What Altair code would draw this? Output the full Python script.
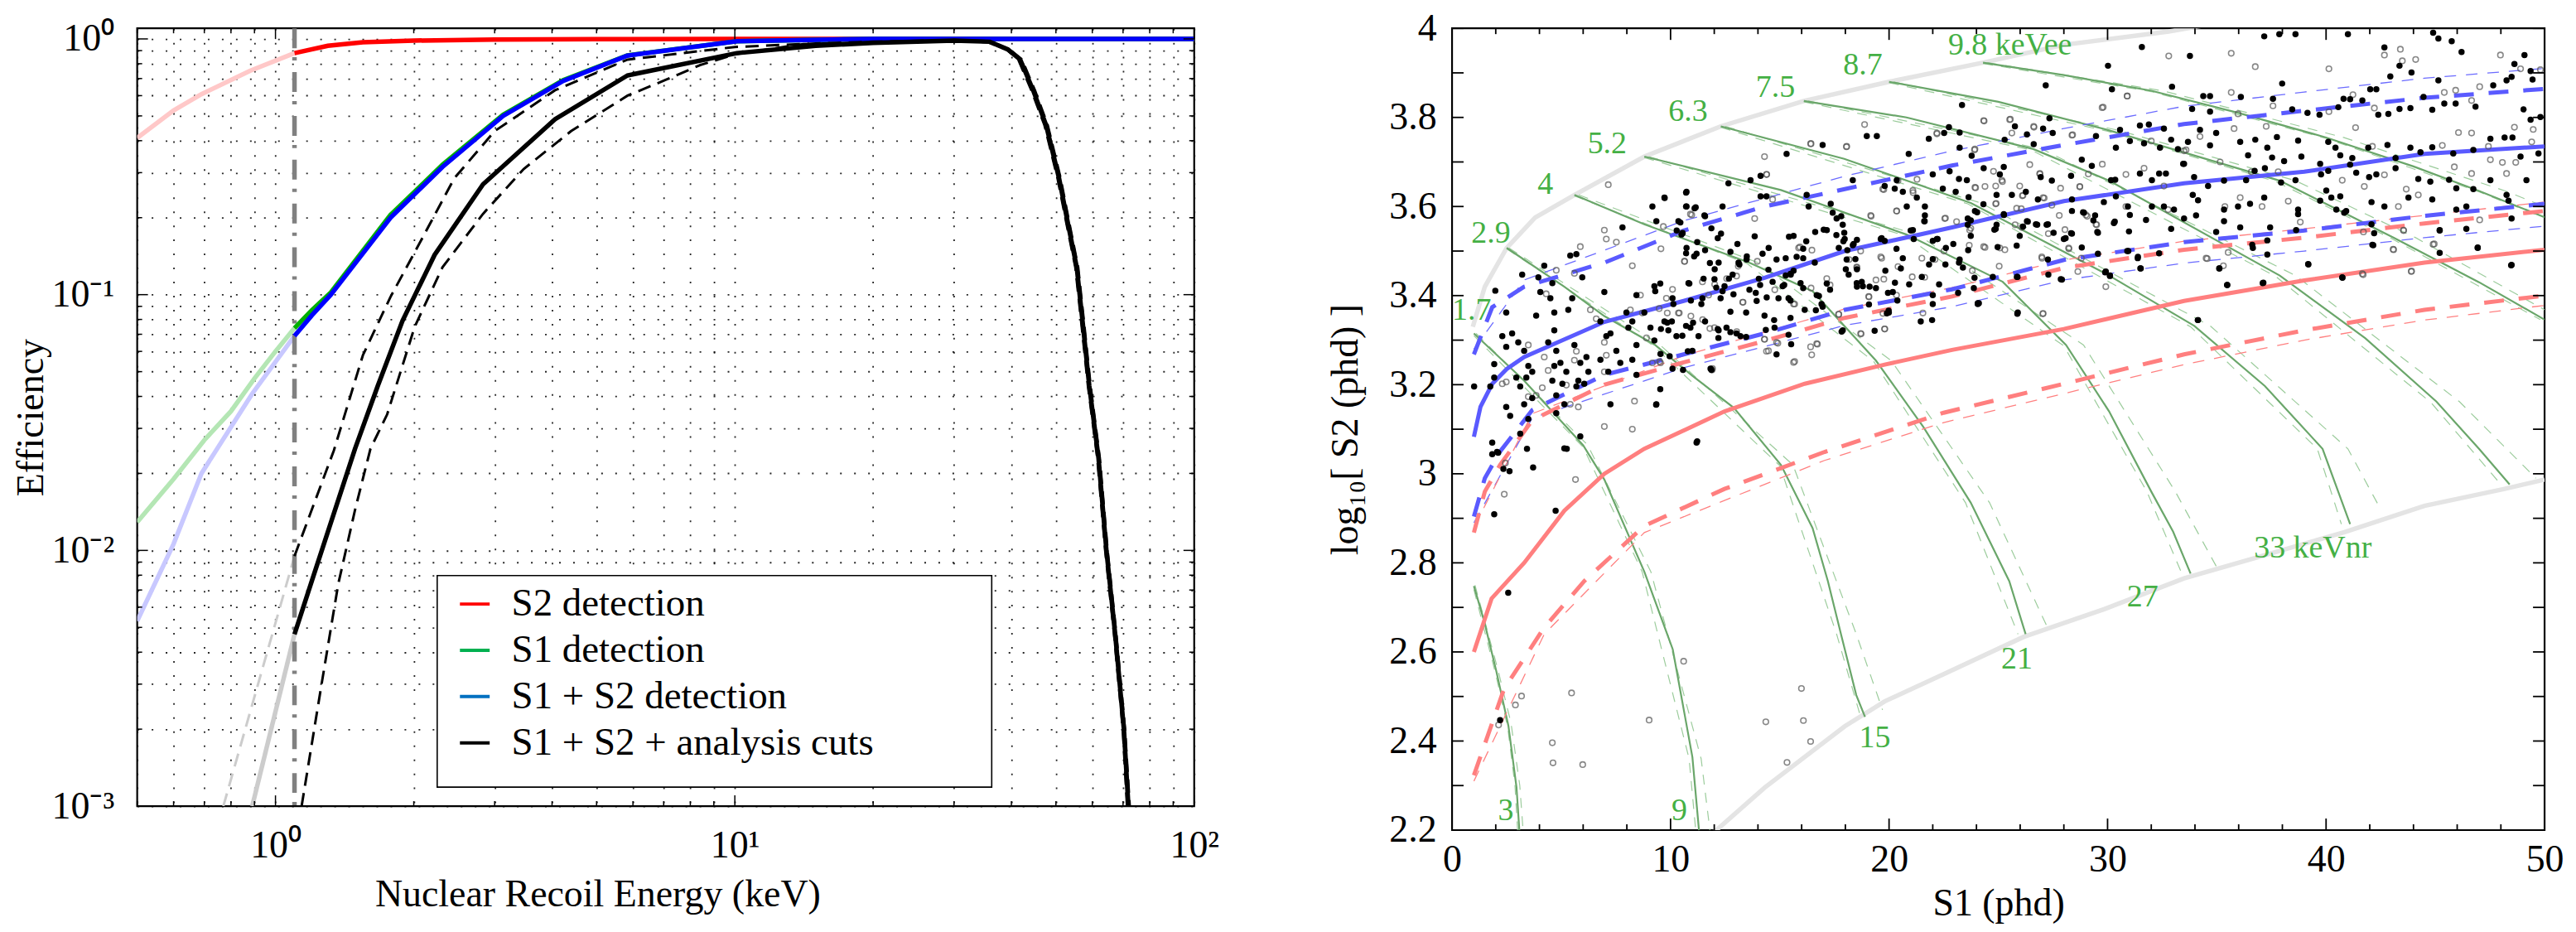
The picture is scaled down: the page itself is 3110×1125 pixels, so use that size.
import altair as alt
import pandas as pd

FONT = "Liberation Serif"
W1, H1 = 1279, 941
W2, H2 = 1322, 970

# ------------------------------------------------------------------ LEFT PANEL
x_grid = [0.5, 0.6, 0.7, 0.8, 0.9, 1, 2, 3, 4, 5, 6, 7, 8, 9, 10, 20, 30, 40, 50, 60, 70, 80, 90, 100]
x_major = [1, 10, 100]
x_minor = [0.5, 0.6, 0.7, 0.8, 0.9, 2, 3, 4, 5, 6, 7, 8, 9, 20, 30, 40, 50, 60, 70, 80, 90]
y_grid = [0.001, 0.002, 0.003, 0.004, 0.005, 0.006, 0.007, 0.008, 0.009,
          0.01, 0.02, 0.03, 0.04, 0.05, 0.06, 0.07, 0.08, 0.09,
          0.1, 0.2, 0.3, 0.4, 0.5, 0.6, 0.7, 0.8, 0.9, 1]
y_major = [0.001, 0.01, 0.1, 1]
y_minor = [0.002, 0.003, 0.004, 0.005, 0.006, 0.007, 0.008, 0.009,
           0.02, 0.03, 0.04, 0.05, 0.06, 0.07, 0.08, 0.09,
           0.2, 0.3, 0.4, 0.5, 0.6, 0.7, 0.8, 0.9]

legend_names = ["S2 detection", "S1 detection", "S1 + S2 detection", "S1 + S2 + analysis cuts"]
legend_colors = ["#ff0000", "#00b050", "#0070c0", "#000000"]

s2_pale_E = [0.5, 0.6, 0.69, 0.88, 1.1]
s2_pale_eff = [0.41, 0.525, 0.608, 0.75, 0.88]
s2_E = [1.1, 1.3, 1.55, 2.0, 3.0, 5.0, 10, 30, 100]
s2_eff = [0.88, 0.94, 0.97, 0.985, 0.995, 0.998, 1.0, 1.0, 1.0]

s1_pale_E = [0.5, 0.6, 0.7, 0.8, 0.9, 1.0, 1.1]
s1_pale_eff = [0.0129, 0.019, 0.027, 0.035, 0.047, 0.06, 0.074]
s1_E = [1.1, 1.2, 1.32, 1.78, 2.31, 3.13, 4.23, 5.83, 10.1, 20, 100]
s1_eff = [0.074, 0.087, 0.102, 0.205, 0.322, 0.505, 0.69, 0.862, 0.98, 1.0, 1.0]

s12_pale_E = [0.5, 0.6, 0.69, 0.89, 1.1]
s12_pale_eff = [0.0053, 0.0106, 0.020, 0.041, 0.069]
s12_E = [1.1, 1.2, 1.32, 1.78, 2.31, 3.13, 4.23, 5.83, 10.1, 20, 100]
s12_eff = [0.069, 0.083, 0.1, 0.2, 0.316, 0.5, 0.685, 0.86, 0.98, 1.0, 1.0]

cuts_E = [1.1, 1.2, 1.3, 1.49, 1.67, 1.89, 2.22, 2.83, 4.06, 5.84, 10.1, 15, 20, 30, 35.9,
          39.3, 41.8, 44.6, 47.6, 50.8, 53.1, 55.5, 57.3, 59.1, 61.9, 64.4, 67.3, 70.3, 71.9, 73]
cuts_eff = [0.0047, 0.0076, 0.0118, 0.025, 0.044, 0.079, 0.143, 0.27, 0.485, 0.72, 0.88, 0.94, 0.965, 0.985, 0.975,
            0.91, 0.83, 0.63, 0.46, 0.285, 0.19, 0.128, 0.075, 0.044, 0.023, 0.010, 0.0047, 0.0020, 0.001, 0.0007]
cuts_hi_E = [1.1, 1.34, 1.55, 1.78, 2.09, 2.45, 3.0, 4.06, 5.84, 10, 15, 20, 30, 35.9, 39.6,
             42.2, 45.0, 48.0, 51.2, 53.5, 55.9, 57.7, 59.5, 62.3, 64.8, 67.7, 70.7, 72.4, 73.5]
cuts_hi_eff = [0.0095, 0.0246, 0.058, 0.098, 0.167, 0.285, 0.436, 0.63, 0.83, 0.93, 0.96, 0.975, 0.99, 0.98, 0.91,
               0.83, 0.63, 0.46, 0.285, 0.19, 0.128, 0.075, 0.044, 0.023, 0.010, 0.0047, 0.0020, 0.001, 0.0007]
cuts_lo_E = [1.14, 1.26, 1.37, 1.49, 1.61, 1.75, 2.01, 2.31, 2.83, 3.47, 4.4, 5.84, 7.05, 8.4, 10, 14.1, 20, 30,
             35.6, 39.0, 41.4, 44.2, 47.2, 50.4, 52.7, 55.1, 56.9, 58.7, 61.5, 64.0, 66.9, 69.9, 71.4, 72.5]
cuts_lo_eff = [0.001, 0.003, 0.0074, 0.0144, 0.025, 0.034, 0.075, 0.128, 0.207, 0.31, 0.436, 0.60, 0.69, 0.79, 0.87,
               0.955, 0.97, 0.98, 0.97, 0.91, 0.83, 0.63, 0.46, 0.285, 0.19, 0.128, 0.075, 0.044, 0.023, 0.010,
               0.0047, 0.0020, 0.001, 0.0007]
gray_E = [0.89, 1.1]
gray_eff = [0.001, 0.0047]
gray_dash_E = [0.77, 1.1]
gray_dash_eff = [0.001, 0.0095]
threshold_E = [1.1]

# ------------------------------------------------------------------ RIGHT PANEL
s1_ticks_major = [0, 10, 20, 30, 40, 50]
s1_ticks_minor = [2, 4, 6, 8, 12, 14, 16, 18, 22, 24, 26, 28, 32, 34, 36, 38, 42, 44, 46, 48]
lg_labels = [2.2, 2.4, 2.6, 2.8, 3.0, 3.2, 3.4, 3.6, 3.8, 4.0]
lg_ticks = [2.2, 2.3, 2.4, 2.5, 2.6, 2.7, 2.8, 2.9, 3.0, 3.1, 3.2, 3.3, 3.4, 3.5, 3.6, 3.7, 3.8, 3.9, 4.0]

gray_bounds = {
    "upper": [(0.95, 3.33), (1.5, 3.42), (2.5, 3.507), (3.8, 3.575), (5.6, 3.626), (8.8, 3.712), (12.3, 3.78),
              (16.1, 3.837), (20.0, 3.88), (24.3, 3.923), (28.0, 3.963), (32.8, 3.993), (36.0, 4.02)],
    "lower": [(11.0, 2.15), (12.1, 2.2), (14.3, 2.295), (17.97, 2.433), (19.8, 2.489), (22.5, 2.55), (26.17, 2.634),
              (29.84, 2.696), (33.5, 2.765), (37.17, 2.817), (40.84, 2.869), (44.5, 2.928), (48.17, 2.966),
              (50.0, 2.987)],
}

contours = {
    "A": [(1.0, 2.748), (1.47, 2.669), (2.02, 2.558), (2.58, 2.434), (2.95, 2.296), (3.08, 2.2)],
    "B": [(1.0, 3.315), (3.3, 3.209), (6.0, 3.064), (6.97, 2.987), (8.8, 2.78), (10.1, 2.606), (11.0, 2.364),
          (11.3, 2.2)],
    "C": [(2.5, 3.507), (5.14, 3.42), (6.97, 3.354), (9.27, 3.29), (11.0, 3.22), (12.9, 3.148), (15.05, 3.02),
          (16.5, 2.878), (17.2, 2.759), (17.8, 2.64), (18.5, 2.503), (18.9, 2.454)],
    "D": [(5.6, 3.626), (8.8, 3.56), (13.6, 3.474), (16.5, 3.41), (19.4, 3.254), (21.57, 3.105), (23.74, 2.935),
          (25.5, 2.759), (26.25, 2.64)],
    "E": [(8.8, 3.712), (15.05, 3.637), (20.8, 3.537), (25.2, 3.431), (28.1, 3.289), (30.07, 3.14), (32.0, 2.96),
          (33.0, 2.87), (33.8, 2.776)],
    "F": [(12.3, 3.78), (17.95, 3.707), (23.74, 3.608), (30.07, 3.445), (33.97, 3.332), (37.2, 3.197),
          (39.84, 3.056), (41.1, 2.887)],
    "G": [(16.1, 3.837), (20.8, 3.8), (26.6, 3.729), (30.07, 3.658), (37.88, 3.445), (41.8, 3.304),
          (45.05, 3.162), (47.0, 3.056), (48.4, 2.976)],
    "H": [(20.0, 3.88), (25.0, 3.835), (30.07, 3.771), (37.88, 3.658), (43.1, 3.53), (47.0, 3.43), (50.0, 3.346)],
    "I": [(24.3, 3.923), (28.0, 3.895), (32.0, 3.86), (36.0, 3.81), (40.0, 3.755), (44.0, 3.69), (47.0, 3.635),
          (50.0, 3.576)],
}

contour_bands = {
    "A_l": [(1.0, 2.74), (2.0, 2.55), (2.55, 2.43), (2.88, 2.3), (3.0, 2.2)],
    "A_r": [(1.05, 2.75), (2.1, 2.56), (2.7, 2.44), (3.1, 2.3), (3.25, 2.2)],
    "B_l": [(1.0, 3.31), (6.0, 3.06), (8.7, 2.78), (10.85, 2.36), (11.15, 2.2)],
    "B_r": [(1.1, 3.315), (6.2, 3.065), (9.1, 2.78), (11.4, 2.36), (11.8, 2.2)],
    "C_l": [(2.5, 3.505), (9.2, 3.288), (15.0, 3.018), (17.6, 2.64), (18.7, 2.454)],
    "C_r": [(2.6, 3.507), (9.5, 3.29), (15.6, 3.02), (18.5, 2.64), (19.7, 2.47)],
    "D_l": [(5.6, 3.624), (13.5, 3.472), (19.3, 3.252), (23.5, 2.935), (25.9, 2.64)],
    "D_r": [(5.8, 3.626), (14.0, 3.474), (20.1, 3.254), (24.6, 2.935), (27.2, 2.66)],
    "E_l": [(8.8, 3.71), (20.7, 3.535), (28.0, 3.287), (31.8, 2.96), (33.4, 2.776)],
    "E_r": [(9.0, 3.712), (21.3, 3.537), (28.9, 3.289), (33.1, 2.96), (35.0, 2.79)],
    "F_l": [(12.3, 3.778), (23.6, 3.606), (33.8, 3.33), (39.6, 3.056), (40.7, 2.887)],
    "F_r": [(12.5, 3.78), (24.2, 3.608), (34.7, 3.332), (41.0, 3.056), (42.5, 2.92)],
    "G_l": [(16.1, 3.835), (26.5, 3.727), (37.7, 3.443), (44.8, 3.16), (48.0, 2.976)],
    "G_r": [(16.3, 3.837), (27.0, 3.729), (38.6, 3.445), (46.1, 3.162), (49.6, 2.99)],
    "H_l": [(20.0, 3.878), (30.0, 3.769), (37.7, 3.656), (43.0, 3.528), (49.8, 3.346)],
    "H_r": [(20.2, 3.88), (30.5, 3.771), (38.6, 3.658), (44.1, 3.53), (50.8, 3.346)],
    "I_l": [(24.3, 3.921), (32.0, 3.858), (40.0, 3.753), (47.0, 3.633), (49.9, 3.576)],
    "I_r": [(24.5, 3.923), (32.5, 3.86), (40.8, 3.755), (48.2, 3.635), (51.2, 3.576)],
}

er_median = [(1.0, 3.083), (1.3, 3.15), (1.84, 3.202), (2.5, 3.235), (3.3, 3.262), (6.97, 3.341), (10.6, 3.388),
             (14.3, 3.44), (17.97, 3.5), (22.88, 3.553), (28.0, 3.612), (33.5, 3.652), (39.0, 3.678),
             (44.5, 3.718), (50.0, 3.735)]
er_band = {
    "hi": [(1.0, 3.268), (1.84, 3.374), (3.3, 3.42), (6.97, 3.474), (10.6, 3.546), (14.3, 3.6), (17.97, 3.639),
           (22.88, 3.692), (28.0, 3.738), (33.5, 3.785), (39.0, 3.815), (44.5, 3.844), (50.0, 3.864)],
    "lo": [(1.0, 2.904), (1.5, 2.99), (2.2, 3.05), (3.67, 3.143), (6.97, 3.222), (10.6, 3.268), (14.3, 3.315),
           (17.97, 3.368), (22.88, 3.414), (28.0, 3.48), (33.5, 3.52), (39.0, 3.546), (44.5, 3.579), (50.0, 3.606)],
}
er_thin = {
    "hi": [(1.0, 3.28), (3.3, 3.435), (10.6, 3.568), (17.97, 3.668), (22.88, 3.725), (28.0, 3.775), (33.5, 3.825),
           (39.0, 3.857), (44.5, 3.888), (50.0, 3.91)],
    "lo": [(1.0, 2.89), (3.67, 3.125), (10.6, 3.238), (17.97, 3.333), (22.88, 3.375), (28.0, 3.435), (33.5, 3.473),
           (39.0, 3.5), (44.5, 3.53), (50.0, 3.556)],
}
nr_median = [(1.0, 2.6), (1.81, 2.72), (3.3, 2.8), (5.14, 2.917), (6.97, 3.0), (8.8, 3.056), (12.47, 3.14),
             (16.14, 3.202), (19.8, 3.245), (22.88, 3.278), (28.0, 3.325), (33.5, 3.388), (39.0, 3.434),
             (44.5, 3.474), (50.0, 3.503)]
nr_band = {
    "hi": [(1.0, 2.868), (1.5, 2.96), (2.2, 3.02), (3.67, 3.12), (6.97, 3.2), (10.6, 3.25), (14.3, 3.298),
           (17.97, 3.35), (22.88, 3.398), (28.0, 3.462), (33.5, 3.503), (39.0, 3.53), (44.5, 3.562), (50.0, 3.59)],
    "lo": [(1.0, 2.323), (2.38, 2.517), (4.22, 2.655), (6.05, 2.759), (8.8, 2.883), (12.47, 2.966), (17.05, 3.049),
           (22.5, 3.137), (28.0, 3.202), (33.5, 3.268), (39.0, 3.322), (44.5, 3.368), (50.0, 3.4)],
}
nr_thin = {
    "hi": [(1.0, 2.88), (3.67, 3.135), (10.6, 3.265), (17.97, 3.37), (22.88, 3.418), (28.0, 3.48), (33.5, 3.522),
           (39.0, 3.55), (44.5, 3.58), (50.0, 3.61)],
    "lo": [(1.0, 2.31), (4.22, 2.64), (8.8, 2.868), (17.05, 3.03), (22.5, 3.115), (28.0, 3.18), (33.5, 3.245),
           (39.0, 3.3), (44.5, 3.345), (50.0, 3.378)],
}

kevee_text = ["1.7", "2.9", "4", "5.2", "6.3", "7.5", "8.7"]
kevee_s1 = [0.9, 1.78, 4.27, 7.1, 10.8, 14.8, 18.8]
kevee_lg = [3.367, 3.539, 3.648, 3.74, 3.812, 3.867, 3.917]
kevnr_text = ["3", "9", "15", "21", "27"]
kevnr_s1 = [2.46, 10.4, 19.35, 25.85, 31.6]
kevnr_lg = [2.243, 2.243, 2.406, 2.584, 2.722]
unit_text = ["9.8 keVee", "33 keVnr"]
unit_s1 = [22.7, 36.7]
unit_lg = [3.961, 2.833]

filled_pts = [
    (1.01, 3.196), (1.98, 3.411), (1.75, 3.196), (1.93, 3.216), (2.3, 3.309), (2.48, 3.362), (1.93, 3.246),
    (2.48, 3.285), (3.21, 3.447), (2.75, 3.315), (3.03, 3.295), (3.3, 3.276), (3.49, 3.242), (3.67, 3.229),
    (3.4, 3.216), (2.94, 3.216), (3.12, 3.196), (2.48, 3.15), (2.66, 3.13), (3.3, 3.156), (3.49, 3.123),
    (3.67, 3.17), (3.85, 3.355), (3.95, 3.441), (4.22, 3.467), (4.04, 3.408), (4.59, 3.428), (4.5, 3.394),
    (4.68, 3.362), (4.68, 3.322), (4.4, 3.295), (4.77, 3.276), (4.68, 3.242), (4.96, 3.249), (5.23, 3.229),
    (4.59, 3.209), (5.05, 3.202), (4.77, 3.176), (5.14, 3.156), (4.77, 3.136), (5.32, 3.368), (5.41, 3.49),
    (5.69, 3.493), (5.96, 3.441), (5.5, 3.394), (5.6, 3.289), (5.87, 3.249), (5.78, 3.209), (6.05, 3.202),
    (5.69, 3.196), (6.24, 3.229), (6.15, 3.262), (5.87, 3.084), (6.79, 3.256), (6.97, 3.408), (6.79, 3.342),
    (7.06, 3.309), (7.25, 3.315), (7.15, 3.229), (7.25, 3.156), (7.52, 3.276), (7.7, 3.249), (7.8, 3.553),
    (7.98, 3.362), (8.07, 3.328), (8.25, 3.342), (8.44, 3.401), (8.44, 3.289), (8.25, 3.256), (8.44, 3.222),
    (8.8, 3.362), (9.08, 3.328), (9.17, 3.6), (9.35, 3.567), (9.26, 3.421), (9.26, 3.299), (9.54, 3.269),
    (9.35, 3.156), (9.72, 3.62), (9.72, 3.342), (9.9, 3.322), (10.09, 3.394), (10.27, 3.309), (10.09, 3.236),
    (10.36, 3.567), (10.73, 3.6), (10.73, 3.633), (10.55, 3.54), (10.73, 3.507), (10.82, 3.428), (10.91, 3.328),
    (11.0, 3.276), (11.1, 3.596), (11.19, 3.494), (11.46, 3.394), (11.28, 3.309), (11.55, 3.58), (11.83, 3.236),
    (12.01, 3.437), (12.2, 3.474), (12.29, 3.394), (12.38, 3.6), (12.2, 3.322), (12.56, 3.328), (12.47, 3.421),
    (12.65, 3.652), (12.84, 3.447), (13.02, 3.315), (13.11, 3.474), (13.2, 3.309), (13.48, 3.481), (13.66, 3.659),
    (13.85, 3.533), (13.94, 3.388), (14.12, 3.669), (14.12, 3.623), (14.21, 3.494), (14.3, 3.355), (14.39, 3.623),
    (14.49, 3.507), (14.67, 3.431), (14.76, 3.328), (14.85, 3.481), (14.94, 3.394), (15.13, 3.421), (15.31, 3.718),
    (15.4, 3.312), (15.5, 3.447), (15.4, 3.394), (15.77, 3.487), (15.95, 3.428), (16.14, 3.368), (16.23, 3.626),
    (16.32, 3.6), (16.6, 3.474), (16.69, 3.401), (16.96, 3.375), (16.96, 3.738), (17.15, 3.547), (17.33, 3.606),
    (17.42, 3.586), (17.6, 3.573), (17.7, 3.507), (17.88, 3.322), (17.97, 3.527), (18.06, 3.481), (18.15, 3.447),
    (18.34, 3.513), (18.34, 3.659), (18.52, 3.428), (18.8, 3.421), (18.98, 3.758), (19.44, 3.758), (19.62, 3.527),
    (19.8, 3.646), (19.99, 3.362), (20.17, 3.408), (20.26, 3.64), (20.35, 3.659), (20.54, 3.461), (20.63, 3.633),
    (20.81, 3.6), (20.9, 3.718), (21.09, 3.547), (21.27, 3.62), (21.45, 3.342), (21.63, 3.567), (21.82, 3.752),
    (22.0, 3.672), (22.19, 3.527), (22.46, 3.64), (22.74, 3.778),
    (11.19, 3.07), (5.14, 3.057), (1.84, 3.07), (3.12, 3.09), (1.84, 3.044), (2.11, 3.047),
    (2.06, 3.049), (2.35, 3.011), (2.63, 3.006), (3.71, 3.014), (3.43, 3.056), (5.25, 3.056), (1.93, 2.909),
    (4.74, 2.917), (2.57, 2.733), (2.2, 2.447),
    (9.73, 3.619), (10.71, 3.631), (11.15, 3.598), (11.58, 3.578), (10.71, 3.6), (11.87, 3.551), (12.31, 3.539),
    (12.16, 3.529), (10.45, 3.564), (10.28, 3.546), (10.5, 3.537), (11.22, 3.52), (11.58, 3.502), (10.71, 3.495),
    (11.08, 3.488), (12.74, 3.498), (13.06, 3.516), (13.49, 3.488), (13.15, 3.47), (11.8, 3.473), (12.02, 3.459),
    (12.67, 3.438), (11.51, 3.438), (9.53, 3.427), (10.86, 3.427), (12.09, 3.418), (12.38, 3.41), (12.88, 3.403),
    (13.61, 3.413), (14.48, 3.458), (14.04, 3.438), (14.1, 3.424), (13.9, 3.406), (14.4, 3.396), (15.2, 3.424),
    (15.27, 3.445), (15.49, 3.449), (15.63, 3.456), (16.07, 3.484), (15.27, 3.484), (15.42, 3.532), (15.63, 3.534),
    (16.21, 3.522), (16.07, 3.505), (16.62, 3.543), (17.01, 3.548), (17.59, 3.536), (17.88, 3.559), (17.81, 3.578),
    (17.95, 3.541), (17.91, 3.522), (18.09, 3.502), (18.38, 3.516), (18.53, 3.525), (18.46, 3.482), (18.02, 3.459),
    (18.53, 3.459), (18.75, 3.431), (18.53, 3.42), (19.11, 3.42), (19.4, 3.417), (19.83, 3.456), (19.8, 3.523),
    (19.66, 3.529), (20.34, 3.505), (20.63, 3.484), (20.99, 3.546), (21.13, 3.527), (21.64, 3.6), (21.64, 3.58),
    (21.61, 3.567), (21.83, 3.47), (22.0, 3.482), (22.0, 3.523), (22.22, 3.527), (22.29, 3.425), (22.58, 3.47),
    (22.94, 3.516), (23.23, 3.481), (23.38, 3.463), (23.62, 3.502), (23.74, 3.534), (23.91, 3.44), (24.06, 3.383),
    (23.88, 3.417), (23.6, 3.559), (23.74, 3.569), (24.03, 3.587), (24.32, 3.605), (24.82, 3.548), (24.92, 3.559),
    (24.97, 3.509), (25.26, 3.581), (25.62, 3.626), (25.84, 3.512), (25.98, 3.534), (26.13, 3.555), (26.35, 3.566),
    (26.78, 3.559), (27.21, 3.559), (27.53, 3.541), (28.08, 3.529), (28.37, 3.539), (28.37, 3.59), (28.88, 3.587),
    (29.35, 3.569), (29.53, 3.543), (30.33, 3.566), (30.98, 3.544), (30.95, 3.5), (31.38, 3.484), (29.89, 3.452),
    (30.11, 3.445), (27.86, 3.437), (27.29, 3.447), (25.88, 3.442), (24.75, 3.442), (23.16, 3.406), (21.5, 3.442),
    (20.27, 3.429), (20.92, 3.425), (19.95, 3.406), (19.08, 3.38), (19.98, 3.366), (19.9, 3.36), (20.38, 3.389),
    (22.0, 3.401), (22.0, 3.381), (16.65, 3.367), (15.49, 3.389), (16.07, 3.417), (16.79, 3.399), (16.91, 3.381),
    (17.15, 3.427), (17.3, 3.413), (15.49, 3.35), (14.74, 3.345), (14.36, 3.323), (13.46, 3.362), (12.74, 3.364),
    (12.16, 3.325), (11.41, 3.381), (11.58, 3.342), (11.03, 3.339), (10.71, 3.332), (10.54, 3.31), (10.06, 3.342),
    (9.85, 3.339), (9.56, 3.325), (10.93, 3.389), (10.13, 3.381), (9.3, 3.41), (12.74, 3.318), (13.46, 3.307),
    (12.19, 3.305), (10.79, 3.275), (9.96, 3.264), (11.22, 3.073), (9.53, 3.19), (9.34, 3.155), (10.57, 3.233),
    (11.87, 3.233), (14.85, 3.268), (15.52, 3.291), (17.83, 3.319), (19.34, 3.321), (21.97, 3.345), (25.87, 3.359),
    (24.06, 3.381),
    (37.17, 3.982), (37.86, 3.987), (38.6, 3.987), (41.0, 3.987), (44.9, 3.99), (45.14, 3.977), (45.75, 3.971),
    (46.2, 3.947), (31.57, 3.958), (33.77, 3.938), (30.02, 3.916), (42.67, 3.957), (43.36, 3.916), (43.91, 3.901),
    (48.62, 3.92), (49.08, 3.94), (49.36, 3.904), (49.45, 3.885), (45.14, 3.883), (27.17, 3.872), (32.95, 3.869),
    (37.99, 3.876), (42.94, 3.892), (30.2, 3.863), (42.02, 3.863), (42.3, 3.863), (44.46, 3.846), (45.41, 3.831),
    (45.93, 3.831), (46.84, 3.824), (49.04, 3.818), (47.65, 3.872), (48.26, 3.883), (48.49, 3.891), (34.38, 3.848),
    (34.69, 3.848), (36.1, 3.846), (37.57, 3.842), (40.8, 3.842), (41.66, 3.838), (43.36, 3.819), (43.86, 3.821),
    (44.86, 3.817), (33.87, 3.819), (34.69, 3.813), (38.45, 3.818), (39.15, 3.81), (39.7, 3.806), (40.56, 3.823),
    (41.1, 3.841), (42.39, 3.806), (42.85, 3.808),
    (23.23, 3.766), (23.34, 3.828), (27.34, 3.798), (25.76, 3.78), (27.05, 3.775), (27.49, 3.765), (26.31, 3.762),
    (25.29, 3.75), (26.62, 3.74), (23.78, 3.714), (23.23, 3.732), (22.52, 3.765), (30.57, 3.772), (31.48, 3.782),
    (31.89, 3.784), (32.58, 3.775), (29.47, 3.758), (31.02, 3.747), (31.67, 3.742), (30.38, 3.732), (32.4, 3.732),
    (32.91, 3.75), (33.22, 3.729), (33.46, 3.696), (33.68, 3.745), (34.23, 3.772), (34.97, 3.765), (34.69, 3.737),
    (36.07, 3.745), (36.76, 3.75), (37.75, 3.756), (38.72, 3.748), (36.43, 3.715), (37.31, 3.732), (37.53, 3.71),
    (38.08, 3.702), (38.87, 3.712), (39.73, 3.696), (40.1, 3.745), (40.43, 3.732), (40.65, 3.715), (41.2, 3.709),
    (41.93, 3.732), (42.81, 3.738), (43.18, 3.709), (43.86, 3.732), (44.32, 3.722), (44.86, 3.733), (45.82, 3.719),
    (46.74, 3.727), (47.52, 3.752), (48.17, 3.755), (48.53, 3.755), (48.9, 3.712), (49.72, 3.719), (49.81, 3.801),
    (49.36, 3.795),
    (22.77, 3.679), (23.2, 3.662), (23.56, 3.659), (24.33, 3.686), (25.07, 3.672), (25.25, 3.689), (26.94, 3.666),
    (27.45, 3.658), (28.33, 3.669), (28.82, 3.705), (29.28, 3.691), (30.16, 3.659), (30.35, 3.66), (31.48, 3.674),
    (32.03, 3.659), (32.36, 3.674), (32.67, 3.674), (33.5, 3.696), (33.96, 3.666), (34.6, 3.646), (35.33, 3.658),
    (36.34, 3.659), (36.73, 3.68), (37.2, 3.686), (37.94, 3.654), (38.6, 3.659), (39.77, 3.672), (40.1, 3.68),
    (41.1, 3.694), (41.38, 3.676), (41.97, 3.666), (42.3, 3.672), (43.18, 3.686), (44.22, 3.662), (44.77, 3.656),
    (45.63, 3.66), (45.96, 3.641), (46.74, 3.639), (47.52, 3.659), (49.17, 3.659),
    (23.05, 3.633), (23.64, 3.621), (24.92, 3.626), (26.26, 3.633), (26.81, 3.616), (28.37, 3.616), (29.83, 3.61),
    (30.38, 3.623), (30.93, 3.6), (32.03, 3.6), (32.58, 3.6), (33.04, 3.593), (33.9, 3.626), (34.14, 3.614),
    (35.33, 3.593), (35.97, 3.6), (36.52, 3.606), (37.17, 3.62), (38.72, 3.583), (39.73, 3.613), (40.01, 3.636),
    (40.24, 3.62), (40.65, 3.623), (40.92, 3.59), (42.08, 3.61), (42.67, 3.6), (43.77, 3.62), (44.86, 3.616),
    (45.96, 3.593), (46.42, 3.6), (48.26, 3.626), (48.35, 3.613),
    (23.6, 3.573), (23.93, 3.59), (24.88, 3.55), (25.25, 3.583), (26.31, 3.567), (26.72, 3.56), (27.27, 3.56),
    (28.0, 3.527), (28.33, 3.54), (28.92, 3.586), (29.43, 3.58), (29.56, 3.541), (30.29, 3.563), (31.02, 3.581),
    (31.76, 3.57), (32.91, 3.55), (33.5, 3.573), (34.05, 3.58), (34.97, 3.543), (35.33, 3.567), (36.07, 3.553),
    (36.62, 3.514), (37.31, 3.524), (37.44, 3.553), (38.63, 3.547), (38.72, 3.593), (40.47, 3.593), (40.83, 3.586),
    (42.08, 3.56), (42.2, 3.54), (42.12, 3.514), (45.2, 3.547), (46.42, 3.55), (46.94, 3.508), (48.49, 3.573),
    (22.6, 3.507), (23.2, 3.474), (24.11, 3.383), (25.89, 3.362), (25.85, 3.442), (27.27, 3.481), (27.91, 3.436),
    (28.82, 3.508), (29.56, 3.494), (29.92, 3.454), (30.11, 3.444), (30.9, 3.5), (31.39, 3.487), (31.52, 3.461),
    (32.36, 3.495), (35.11, 3.461), (35.48, 3.424), (36.65, 3.507), (37.13, 3.429), (37.31, 3.492), (39.18, 3.471),
    (48.49, 3.469), (34.14, 3.345), (40.74, 3.441),
    (39.19, 3.47), (40.75, 3.44), (48.47, 3.468), (37.1, 3.428), (35.47, 3.424), (34.13, 3.345), (35.12, 3.461),
    (31.5, 3.461), (45.2, 3.496), (46.94, 3.507), (42.16, 3.513), (45.2, 3.546),
]

open_pts = [
    (7.15, 3.649), (6.97, 3.547), (7.06, 3.527), (7.52, 3.52), (8.25, 3.467), (5.87, 3.51), (4.77, 3.457),
    (5.6, 3.45), (4.31, 3.404), (3.49, 3.289), (2.3, 3.202), (2.48, 3.206), (4.22, 3.262), (4.4, 3.232),
    (4.13, 3.193), (3.49, 3.173), (3.85, 3.176), (5.23, 3.199), (5.6, 3.255), (5.69, 3.275), (6.33, 3.368),
    (6.6, 3.348), (6.97, 3.295), (7.06, 3.266), (6.97, 3.229), (5.41, 3.156), (5.78, 3.15), (6.97, 3.106),
    (8.25, 3.1), (8.35, 3.163), (8.16, 3.368), (8.62, 3.401), (8.71, 3.361), (8.9, 3.305), (9.17, 3.249),
    (9.54, 3.249), (9.81, 3.394), (10.09, 3.414), (10.36, 3.361), (10.64, 3.477), (10.91, 3.583), (11.46, 3.431),
    (11.74, 3.401), (11.92, 3.236), (12.01, 3.328), (13.02, 3.444), (13.3, 3.385), (13.85, 3.573), (14.3, 3.712),
    (14.39, 3.672), (14.67, 3.616), (14.3, 3.302), (14.39, 3.275), (14.85, 3.295), (15.68, 3.252), (15.68, 3.381),
    (15.86, 3.507), (16.41, 3.741), (16.41, 3.285), (16.69, 3.292), (17.7, 3.358), (18.06, 3.735), (18.88, 3.784),
    (18.52, 3.464), (18.7, 3.315), (19.07, 3.398), (19.16, 3.58), (19.71, 3.639), (19.8, 3.325), (19.62, 3.487),
    (20.35, 3.59), (21.09, 3.636), (21.55, 3.361), (21.63, 3.441), (22.19, 3.765), (22.1, 3.481), (22.55, 3.573),
    (2.44, 3.024), (2.39, 2.954), (5.65, 2.987), (10.6, 2.579), (5.47, 2.508), (3.18, 2.501), (2.9, 2.481),
    (2.13, 2.436), (4.59, 2.396), (4.62, 2.351), (5.98, 2.347), (9.02, 2.447), (14.36, 2.443), (15.99, 2.518),
    (16.08, 2.446), (16.41, 2.399), (15.33, 2.352),
    (14.4, 3.672), (16.43, 3.741), (18.05, 3.734), (22.19, 3.763), (23.91, 3.727), (24.35, 3.792), (25.55, 3.796),
    (25.62, 3.765), (26.63, 3.778), (28.4, 3.761), (29.75, 3.822), (30.9, 3.848), (29.76, 3.695), (29.12, 3.673),
    (28.73, 3.644), (27.1, 3.619), (26.9, 3.673), (26.1, 3.624), (26.05, 3.595), (25.19, 3.656), (24.78, 3.679),
    (24.39, 3.645), (23.96, 3.642), (22.58, 3.574), (23.09, 3.566), (23.74, 3.551), (24.9, 3.607), (25.84, 3.596),
    (25.77, 3.559), (26.08, 3.553), (27.29, 3.539), (27.79, 3.58), (28.05, 3.548), (29.07, 3.578), (29.5, 3.559),
    (28.23, 3.505), (28.8, 3.484), (27.0, 3.484), (25.04, 3.466), (25.3, 3.503), (24.39, 3.508), (23.67, 3.513),
    (23.81, 3.456), (22.51, 3.5), (21.5, 3.484), (21.06, 3.442), (20.41, 3.658), (21.28, 3.661), (21.1, 3.631),
    (19.76, 3.638), (19.18, 3.578), (20.34, 3.59), (19.66, 3.484), (20.41, 3.465), (18.53, 3.463), (18.17, 3.481),
    (17.15, 3.438), (18.7, 3.5), (16.47, 3.502), (15.92, 3.509), (13.97, 3.477), (13.1, 3.466), (12.57, 3.438),
    (12.02, 3.425), (14.77, 3.413), (16.43, 3.417), (17.3, 3.424), (19.08, 3.397), (19.4, 3.435), (19.76, 3.437),
    (20.34, 3.401), (19.72, 3.36), (17.69, 3.358), (15.63, 3.381), (13.32, 3.385), (10.97, 3.581), (9.67, 3.555),
    (10.54, 3.541), (9.56, 3.505), (10.64, 3.477), (9.48, 3.371), (9.85, 3.361), (10.4, 3.361), (10.93, 3.354),
    (11.47, 3.346), (11.8, 3.326), (13.03, 3.319), (9.5, 3.252), (11.9, 3.233), (15.63, 3.25), (16.46, 3.267),
    (16.72, 3.291), (14.48, 3.276), (14.3, 3.302), (14.91, 3.293), (19.8, 3.325), (18.72, 3.314), (27.04, 3.359),
    (32.8, 3.938), (35.66, 3.944), (36.76, 3.914), (40.13, 3.909), (42.67, 3.94), (43.4, 3.953), (43.49, 3.927),
    (44.1, 3.93), (47.98, 3.94), (48.9, 3.909), (49.81, 3.907), (30.9, 3.848), (35.66, 3.856), (37.57, 3.826),
    (29.8, 3.823), (41.23, 3.851), (45.41, 3.856), (45.93, 3.861), (47.03, 3.869), (46.66, 3.838), (42.21, 3.821),
    (40.13, 3.813), (35.97, 3.808), (24.33, 3.793), (25.52, 3.795), (26.62, 3.78), (28.37, 3.76), (32.0, 3.747),
    (33.5, 3.725), (34.23, 3.757), (35.79, 3.775), (37.26, 3.78), (41.35, 3.777), (42.12, 3.735), (45.32, 3.737),
    (46.06, 3.766), (46.66, 3.765), (47.43, 3.735), (48.62, 3.778), (49.48, 3.773), (49.41, 3.745), (23.93, 3.729),
    (26.44, 3.694), (26.9, 3.674), (25.16, 3.659), (23.93, 3.643), (24.88, 3.646), (25.98, 3.646), (27.85, 3.641),
    (28.73, 3.645), (30.84, 3.672), (31.67, 3.686), (32.58, 3.646), (33.59, 3.727), (35.15, 3.7), (36.58, 3.678),
    (37.81, 3.678), (38.27, 3.612), (40.74, 3.659), (41.75, 3.645), (42.67, 3.671), (43.67, 3.639), (45.87, 3.689),
    (46.66, 3.674), (47.52, 3.705), (48.07, 3.699), (48.68, 3.699), (48.26, 3.674), (24.88, 3.606), (26.13, 3.625),
    (27.05, 3.62), (27.45, 3.603), (29.01, 3.581), (29.47, 3.56), (30.84, 3.6), (32.77, 3.593), (35.37, 3.6),
    (36.07, 3.62), (37.07, 3.6), (38.82, 3.565), (41.71, 3.543), (43.31, 3.6), (44.22, 3.626), (47.03, 3.57),
    (23.69, 3.547), (24.33, 3.51), (25.07, 3.507), (26.99, 3.487), (28.64, 3.454), (29.92, 3.42), (28.22, 3.507),
    (34.51, 3.484), (35.52, 3.497), (35.3, 3.467), (43.07, 3.504), (43.54, 3.547), (43.91, 3.455), (44.9, 3.515),
    (41.66, 3.449), (27.05, 3.36),
    (41.7, 3.447), (43.9, 3.454), (34.56, 3.483), (44.95, 3.516), (43.09, 3.503), (43.55, 3.546),
]


# ------------------------------------------------------------------ helpers
def series_df(xs, ys):
    return pd.DataFrame({"x": xs, "y": ys, "o": list(range(len(xs)))})


def lines_df(d):
    rows = []
    for name, pts in d.items():
        for i, (a, b) in enumerate(pts):
            rows.append({"s1": a, "lg": b, "k": name, "o": i})
    return pd.DataFrame(rows)


def pts_df(pts):
    return pd.DataFrame({"s1": [p[0] for p in pts], "lg": [p[1] for p in pts]})


LX_SCALE = alt.Scale(type="log", domain=[0.5, 100], nice=False)
LY_SCALE = alt.Scale(type="log", domain=[0.001, 1.1], nice=False)
RX_SCALE = alt.Scale(domain=[0, 50], nice=False, zero=False)
RY_SCALE = alt.Scale(domain=[2.2, 4.0], nice=False, zero=False)

lx_axis = alt.Axis(
    values=x_grid, grid=True, gridDash=[2, 15], gridColor="black", gridWidth=1.8, gridOpacity=0.85,
    ticks=False, domain=False, labelOverlap=False, labelFlush=False,
    labelExpr="datum.value == 1 ? '10\u2070' : datum.value == 10 ? '10\u00b9' : datum.value == 100 ? '10\u00b2' : ''",
    labelFont=FONT, labelFontSize=46, labelColor="black", labelPadding=26, labelBaseline="top",
    title="Nuclear Recoil Energy (keV)", titleFont=FONT, titleFontSize=46, titleFontWeight="normal",
    titleColor="black", titlePadding=14, titleX=557,
)
ly_axis = alt.Axis(
    values=y_grid, grid=True, gridDash=[2, 15], gridColor="black", gridWidth=1.8, gridOpacity=0.85,
    ticks=False, domain=False, labelOverlap=False, labelFlush=False,
    labelExpr=("datum.value == 1 ? '10\u2070' : datum.value == 0.1 ? '10\u207b\u00b9' : "
               "datum.value == 0.01 ? '10\u207b\u00b2' : datum.value == 0.001 ? '10\u207b\u00b3' : ''"),
    labelFont=FONT, labelFontSize=46, labelColor="black", labelPadding=28,
    title="Efficiency", titleFont=FONT, titleFontSize=46, titleFontWeight="normal",
    titleColor="black", titlePadding=1,
)
rx_axis = alt.Axis(
    values=s1_ticks_major, ticks=False, domain=False, grid=False, labelFlush=False, labelOverlap=False,
    labelFont=FONT, labelFontSize=46, labelColor="black", labelPadding=14, labelBaseline="top",
    title="S1 (phd)", titleFont=FONT, titleFontSize=46, titleFontWeight="normal", titleColor="black",
    titlePadding=8,
)
ry_axis = alt.Axis(
    values=lg_labels, format="~g", ticks=False, domain=False, grid=False, labelFlush=False, labelOverlap=False,
    labelFont=FONT, labelFontSize=46, labelColor="black", labelPadding=19,
    title="log\u2081\u2080[ S2 (phd) ]", titleFont=FONT, titleFontSize=46, titleFontWeight="normal",
    titleColor="black", titlePadding=28,
)


def LX(field="x"):
    return alt.X(f"{field}:Q", scale=LX_SCALE, axis=lx_axis, title="Nuclear Recoil Energy (keV)")


def LY(field="y"):
    return alt.Y(f"{field}:Q", scale=LY_SCALE, axis=ly_axis, title="Efficiency")


def RX(field="s1"):
    return alt.X(f"{field}:Q", scale=RX_SCALE, axis=rx_axis, title="S1 (phd)")


def RY(field="lg"):
    return alt.Y(f"{field}:Q", scale=RY_SCALE, axis=ry_axis, title="log\u2081\u2080[ S2 (phd) ]")


# ------------------------------------------------------------------ LEFT CHART
def lline(xs, ys, color, width, dash=None):
    kw = dict(color=color, strokeWidth=width, clip=True)
    if dash:
        kw["strokeDash"] = dash
    return alt.Chart(series_df(xs, ys)).mark_line(**kw).encode(x=LX(), y=LY(), order="o:Q")


left_layers = [
    lline(s2_pale_E, s2_pale_eff, "#ffc8c8", 5.5),
    lline(s1_pale_E, s1_pale_eff, "#b4e6b4", 5.5),
    lline(s12_pale_E, s12_pale_eff, "#c8c8ff", 5.5),
    lline(gray_dash_E, gray_dash_eff, "#cccccc", 3, dash=[16, 9]),
    lline(gray_E, gray_eff, "#cccccc", 5.5),
    alt.Chart(pd.DataFrame({"x": threshold_E})).mark_rule(
        color="#808080", strokeWidth=5.5, strokeDash=[24, 11, 4, 14]).encode(x=LX()),
    lline(s2_E, s2_eff, "#ff0000", 5.5),
    lline(s1_E, s1_eff, "#00b000", 5.5),
    lline(s12_E, s12_eff, "#0000ff", 5.5),
    lline(cuts_hi_E, cuts_hi_eff, "#000000", 3, dash=[16, 9]),
    lline(cuts_lo_E, cuts_lo_eff, "#000000", 3, dash=[16, 9]),
    lline(cuts_E, cuts_eff, "#000000", 5.5),
]

for vals, ln in ((x_minor, 6), (x_major, 13)):
    d = pd.DataFrame({"x": vals})
    left_layers.append(alt.Chart(d).mark_rule(color="black", strokeWidth=1.5).encode(
        x=LX(), y=alt.value(H1), y2=alt.value(H1 - ln)))
    left_layers.append(alt.Chart(d).mark_rule(color="black", strokeWidth=1.5).encode(
        x=LX(), y=alt.value(0), y2=alt.value(ln)))
for vals, ln in ((y_minor, 6), (y_major, 13)):
    d = pd.DataFrame({"y": vals})
    left_layers.append(alt.Chart(d).mark_rule(color="black", strokeWidth=1.5).encode(
        y=LY(), x=alt.value(0), x2=alt.value(ln)))
    left_layers.append(alt.Chart(d).mark_rule(color="black", strokeWidth=1.5).encode(
        y=LY(), x=alt.value(W1), x2=alt.value(W1 - ln)))

# legend frame (white box with black outline)
left_layers.append(
    alt.Chart(pd.DataFrame({"f": [0]})).mark_rect(fill="white", stroke="black", strokeWidth=1.6).encode(
        x=alt.value(363), x2=alt.value(1034), y=alt.value(662), y2=alt.value(918))
)

legend_df = pd.DataFrame({"x": [1.0] * 4, "y": [0.5] * 4, "s": legend_names})
left_layers.append(
    alt.Chart(legend_df).mark_line(strokeWidth=4).encode(
        x=LX(), y=LY(),
        color=alt.Color("s:N", scale=alt.Scale(domain=legend_names, range=legend_colors),
                        legend=alt.Legend(
                            orient="none", legendX=385, legendY=673, title=None,
                            labelFont=FONT, labelFontSize=47, labelColor="black", labelLimit=3000,
                            symbolType="stroke", symbolSize=1296, symbolStrokeWidth=4,
                            labelOffset=21, padding=0, rowPadding=8)))
)

left = alt.layer(*left_layers).properties(width=W1, height=H1)


# ------------------------------------------------------------------ RIGHT CHART
def rlines(d, color, width, dash=None):
    kw = dict(color=color, strokeWidth=width, clip=True)
    if dash:
        kw["strokeDash"] = dash
    return alt.Chart(lines_df(d)).mark_line(**kw).encode(x=RX(), y=RY(), detail="k:N", order="o:Q")


right_layers = [
    rlines(gray_bounds, "#e4e4e4", 5.5),
    rlines(contour_bands, "#9ccc9c", 1.2, dash=[12, 10]),
    rlines(contours, "#6aa66a", 2.2),
    rlines(er_thin, "#6b6bff", 1.3, dash=[14, 12]),
    rlines(nr_thin, "#ff8080", 1.3, dash=[14, 12]),
    rlines({"m": nr_median}, "#ff7f7f", 5),
    rlines(nr_band, "#ff7f7f", 5, dash=[24, 18]),
    rlines({"m": er_median}, "#5a5aff", 5),
    rlines(er_band, "#5a5aff", 5, dash=[24, 18]),
    alt.Chart(pts_df(open_pts)).mark_point(shape="circle", size=44, filled=False, color="#555555",
                                           strokeWidth=1.6, clip=True).encode(x=RX(), y=RY()),
    alt.Chart(pts_df(filled_pts)).mark_point(shape="circle", size=56, filled=True, color="black",
                                             opacity=1, clip=True).encode(x=RX(), y=RY()),
    alt.Chart(pd.DataFrame({"s1": kevee_s1, "lg": kevee_lg, "t": kevee_text})).mark_text(
        font=FONT, fontSize=38, color="#44b044", align="center", baseline="middle").encode(
        x=RX(), y=RY(), text="t:N"),
    alt.Chart(pd.DataFrame({"s1": kevnr_s1, "lg": kevnr_lg, "t": kevnr_text})).mark_text(
        font=FONT, fontSize=38, color="#44b044", align="center", baseline="middle").encode(
        x=RX(), y=RY(), text="t:N"),
    alt.Chart(pd.DataFrame({"s1": unit_s1, "lg": unit_lg, "t": unit_text})).mark_text(
        font=FONT, fontSize=38, color="#44b044", align="left", baseline="middle").encode(
        x=RX(), y=RY(), text="t:N"),
]

for vals, ln in ((s1_ticks_minor, 7), (s1_ticks_major, 14)):
    d = pd.DataFrame({"s1": vals})
    right_layers.append(alt.Chart(d).mark_rule(color="black", strokeWidth=1.8).encode(
        x=RX(), y=alt.value(H2), y2=alt.value(H2 - ln)))
    right_layers.append(alt.Chart(d).mark_rule(color="black", strokeWidth=1.8).encode(
        x=RX(), y=alt.value(0), y2=alt.value(ln)))
d = pd.DataFrame({"lg": lg_ticks})
right_layers.append(alt.Chart(d).mark_rule(color="black", strokeWidth=1.8).encode(
    y=RY(), x=alt.value(0), x2=alt.value(14)))
right_layers.append(alt.Chart(d).mark_rule(color="black", strokeWidth=1.8).encode(
    y=RY(), x=alt.value(W2), x2=alt.value(W2 - 14)))

right = alt.layer(*right_layers).properties(width=W2, height=H2)

chart = alt.hconcat(left, right, spacing=312, bounds="flush").properties(
    padding={"left": 5, "top": 0, "right": 5, "bottom": 0}, background="white"
).configure_view(stroke="black", strokeWidth=2.2)

chart.save("out.html", embed_options={"renderer": "svg", "actions": False})
